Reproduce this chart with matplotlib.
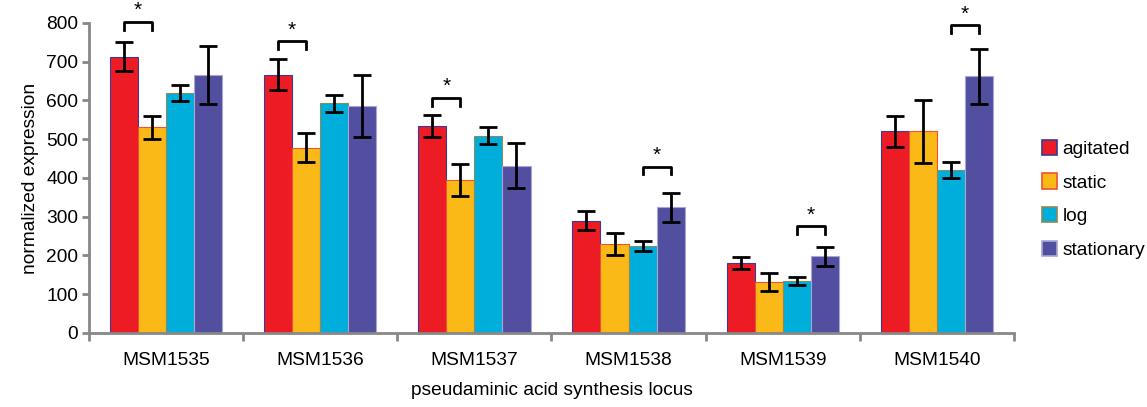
import numpy as np
import matplotlib.pyplot as plt
from matplotlib.patches import Patch

plt.rcParams['font.family'] = ['Liberation Sans', 'DejaVu Sans']

loci = ['MSM1535', 'MSM1536', 'MSM1537', 'MSM1538', 'MSM1539', 'MSM1540']
conditions = ['agitated', 'static', 'log', 'stationary']

agitated = [713, 667, 534, 290, 180, 520]
static = [531, 478, 395, 230, 132, 520]
log = [620, 593, 509, 224, 134, 421]
stationary = [665, 585, 432, 324, 198, 662]

agitated_err = [38, 40, 29, 25, 15, 40]
static_err = [30, 37, 41, 29, 23, 81]
log_err = [21, 22, 22, 13, 10, 21]
stationary_err = [75, 80, 59, 37, 24, 70]

# significance brackets: (locus index, bar a, bar b, bracket height)
sig = [(0, 0, 1, 803), (1, 0, 1, 753), (2, 0, 1, 607),
       (3, 2, 3, 429), (4, 2, 3, 276), (5, 2, 3, 795)]

colors = ['#ED1C24', '#FBB917', '#00AEDB', '#524FA1']
edges = ['#3A3A9A', '#F0522E', '#8A8A5A', '#A9A6D6']

series = [agitated, static, log, stationary]
errs = [agitated_err, static_err, log_err, stationary_err]

fig = plt.figure(figsize=(11.47, 4.07), dpi=100)
ax = fig.add_axes([0.0776, 0.182, 0.8064, 0.7615])

x = np.arange(len(loci))
w = 0.182
offsets = (np.arange(4) - 1.5) * w

for i in range(4):
    ax.bar(x + offsets[i], series[i], w, color=colors[i], edgecolor=edges[i],
           linewidth=0.8, zorder=2)
    ax.errorbar(x + offsets[i], series[i], yerr=errs[i], fmt='none',
                ecolor='black', elinewidth=2, capsize=6.5, capthick=2, zorder=3)

for k, a, b, h in sig:
    xa = x[k] + offsets[a]
    xb = x[k] + offsets[b]
    ax.plot([xa, xa, xb, xb], [h - 20, h, h, h - 20], color='black', lw=2,
            clip_on=False, zorder=4)
    ax.text((xa + xb) / 2, h + 4, '*', ha='center', va='bottom', fontsize=15,
            clip_on=False)

ax.set_xlim(-0.5, len(loci) - 0.5)
ax.set_ylim(0, 800)
ax.set_yticks(range(0, 801, 100))
ax.set_xticks(np.arange(len(loci) + 1) - 0.5)
ax.set_xticklabels([])
ax.set_xticks(x, minor=True)
ax.set_xticklabels(loci, minor=True)
ax.tick_params(axis='x', which='minor', length=0, pad=14, labelsize=13.8)
ax.tick_params(axis='x', which='major', length=6, width=2, color='#888888')
ax.tick_params(axis='y', length=5, width=2, color='#888888', labelsize=13.8, pad=3)

for s in ['top', 'right']:
    ax.spines[s].set_visible(False)
for s in ['left', 'bottom']:
    ax.spines[s].set_color('#888888')
    ax.spines[s].set_linewidth(2)

ax.set_ylabel('normalized expression', fontsize=13.8, labelpad=5)
ax.set_xlabel('pseudaminic acid synthesis locus', fontsize=13.8, labelpad=9)

handles = [Patch(facecolor=colors[i], edgecolor=edges[i], linewidth=1.2)
           for i in range(4)]
fig.legend(handles, conditions, loc='center left', bbox_to_anchor=(0.893, 0.51),
           frameon=False, fontsize=13.8, handlelength=0.8, handleheight=0.85,
           handletextpad=0.3, labelspacing=0.8)

fig.savefig('out.png', dpi=100)
